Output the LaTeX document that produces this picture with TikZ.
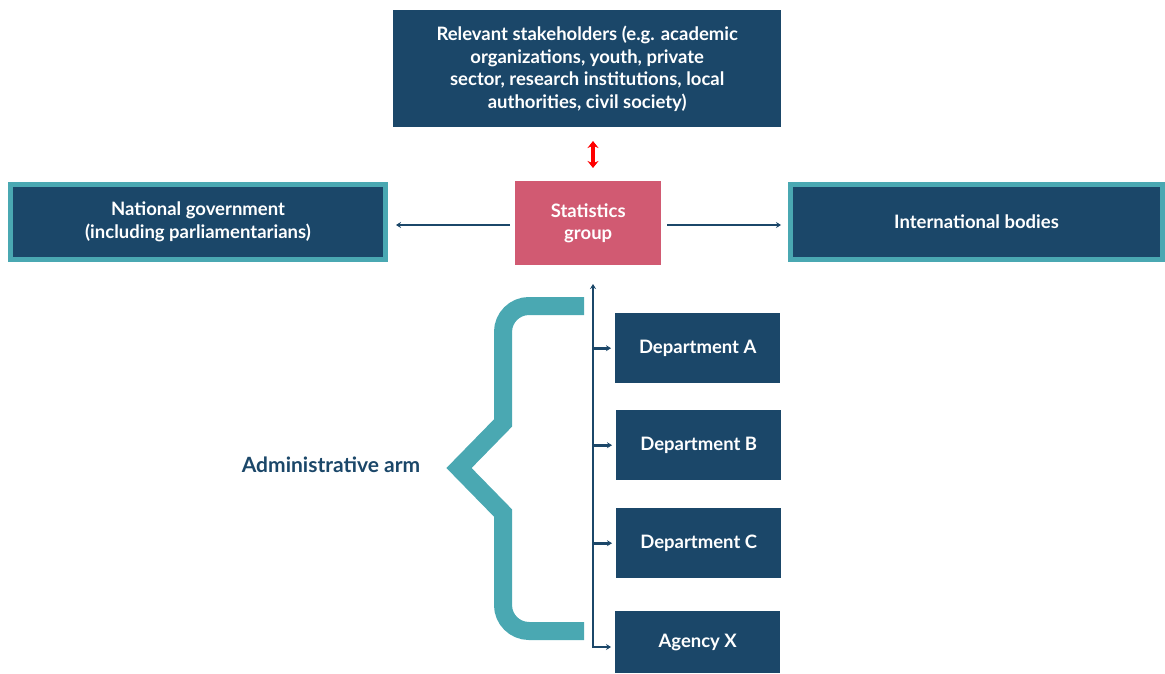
\documentclass[tikz,border=0pt]{standalone}
\usepackage{fontspec}
\setmainfont{Lato}
\usetikzlibrary{arrows.meta}
\definecolor{navy}{HTML}{1B4769}
\definecolor{tealc}{HTML}{4AA8B2}
\definecolor{pinkc}{HTML}{D15A72}
\definecolor{redc}{HTML}{FF0000}
\begin{document}
\begin{tikzpicture}[x=1pt,y=-1pt,
  box/.style={fill=navy, text=white, font=\bfseries\fontsize{18.5}{22.5}\selectfont,
    align=center, inner sep=0pt, anchor=north west},
  framed/.style={box, draw=tealc, line width=5pt, anchor=center},
  conn/.style={draw=navy, line width=2.6pt, -{Stealth[length=5pt,width=6pt]}},
  bracec/.style={draw=tealc, line width=18pt, miter limit=10}]
\useasboundingbox (0,0) rectangle (1165,674);
% top stakeholder box
\node[box, minimum width=388pt, minimum height=117pt] (stake) at (393,10)
  {Relevant stakeholders (e.g. academic\\organizations, youth, private\\sector, research institutions, local\\authorities, civil society)};
% central group
\node[box, fill=pinkc, minimum width=146pt, minimum height=84pt] (stat) at (515,181)
  {Statistics\\group};
% side partners
\node[framed, minimum width=375pt, minimum height=75pt] (natgov) at (198,222)
  {National government\\(including parliamentarians)};
\node[framed, minimum width=372pt, minimum height=75pt] (intl) at (976.5,222)
  {International bodies};
% administrative units
\node[box, minimum width=165pt, minimum height=70pt] (depA) at (615,313) {Department A};
\node[box, minimum width=165pt, minimum height=70pt] (depB) at (616,410) {Department B};
\node[box, minimum width=165pt, minimum height=70pt] (depC) at (616,508) {Department C};
\node[box, minimum width=165pt, minimum height=62pt] (agX) at (615,611) {Agency X};
\node[text=navy, font=\bfseries\fontsize{21}{24}\selectfont] (arm) at (331,465) {Administrative arm};
% links
\draw[draw=redc, line width=4.5pt, {Stealth[length=7pt,width=11pt]}-{Stealth[length=7pt,width=11pt]}]
  (593,141) coordinate (rtop) -- (593,168) coordinate (rbot);
\draw[conn, shorten <=5pt, shorten >=8pt] (stat.west |- 0,225) -- (natgov.east |- 0,225);
\draw[conn, shorten <=6pt, shorten >=7pt] (stat.east |- 0,225) -- (intl.west |- 0,225);
\coordinate (spine) at (593,648);
\draw[conn] (spine) -- (593,284) coordinate (spinetop);
\foreach \n in {depA,depB,depC}
  \draw[conn, shorten >=4pt] (spine |- \n.west) -- (\n.west);
\draw[conn, shorten >=4pt] (spine |- 0,647) -- (agX.west |- 0,647);
% brace: rounded outer corners, sharp middle point
\draw[bracec] (584,306) -- (529,306) arc[start angle=270, end angle=180, radius=26]
  -- (503,423) -- (459,468) -- (503,513) -- (503,605)
  arc[start angle=180, end angle=90, radius=26] -- (584,631);
\end{tikzpicture}
\end{document}
